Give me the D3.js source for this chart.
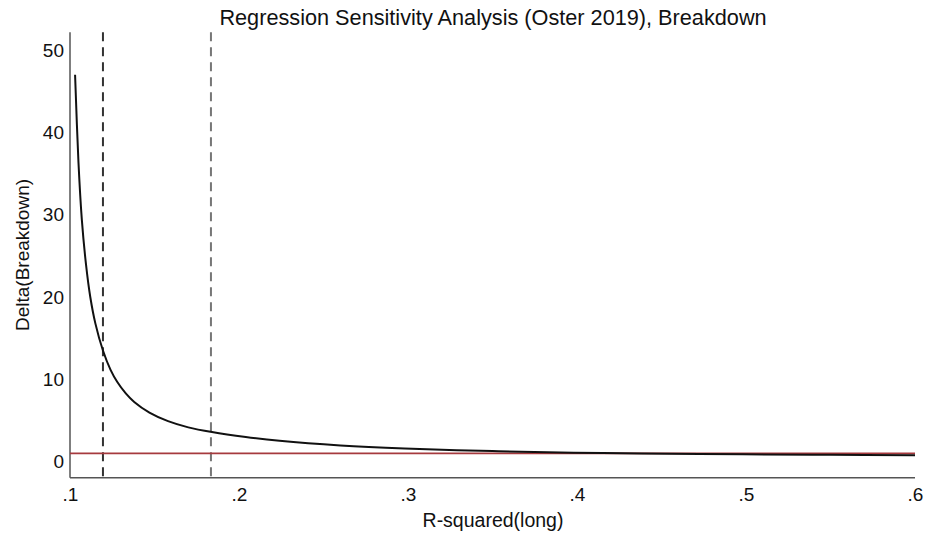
<!DOCTYPE html>
<html><head><meta charset="utf-8">
<script src="https://cdn.jsdelivr.net/npm/d3@7"></script>
<style>body{margin:0;background:#fff;} svg{display:block;font-family:"Liberation Sans",Arial,sans-serif;}</style>
</head><body><svg id="c" width="930" height="535"></svg>
<script>
const rsq   = [0.1030,0.1050,0.1070,0.1095,0.1120,0.1150,0.1195,0.1240,0.1280,0.1330,0.1380,0.1470,0.1580,0.1700,0.1840,0.2040,0.2240,0.2600,0.2980,0.3500,0.3980,0.4380,0.4980,0.5500,0.6000];
const delta = [47.0,36.4,29.4,23.9,20.0,16.8,13.5,11.15,9.67,8.29,7.25,5.96,4.92,4.17,3.60,3.00,2.54,1.98,1.61,1.29,1.09,1.00,0.90,0.83,0.78];
const vlines = [0.1195, 0.1834];
const refY = 1;
const xTicks = [0.1,0.2,0.3,0.4,0.5,0.6];
const xTickLabels = [".1",".2",".3",".4",".5",".6"];
const yTicks = [0,10,20,30,40,50];

const svg = d3.select("#c");
const x = d3.scaleLinear().domain([0.1,0.6]).range([70,915]);
const y = d3.scaleLinear().domain([0,50]).range([461.7,50]);
const yBottom = 477.7, yTop = 32.3;
const FF = "Liberation Sans, Arial, sans-serif";

// title
svg.append("text").attr("x",493).attr("y",25).attr("text-anchor","middle")
  .attr("font-size",21.7).attr("fill","#111").text("Regression Sensitivity Analysis (Oster 2019), Breakdown");

// axes
const xAxis = d3.axisBottom(x).tickValues(xTicks).tickFormat((d,i)=>xTickLabels[i]).tickSize(0).tickPadding(10);
const gx = svg.append("g").attr("transform",`translate(0,${yBottom})`).call(xAxis);
gx.select(".domain").attr("d",`M${x(0.1)},0H${x(0.6)}`).attr("stroke","#555").attr("stroke-width",1.5);
gx.selectAll("text").attr("font-size",19).attr("fill","#111").attr("font-family",FF);

const yAxis = d3.axisLeft(y).tickValues(yTicks).tickSize(0).tickPadding(6);
const gy = svg.append("g").attr("transform","translate(70,0)").call(yAxis);
gy.select(".domain").attr("d",`M0,${yBottom}V${yTop}`).attr("stroke","#555").attr("stroke-width",1.5);
gy.selectAll("text").attr("font-size",19).attr("fill","#111").attr("font-family",FF);

// axis titles
svg.append("text").attr("x",493).attr("y",527).attr("text-anchor","middle")
  .attr("font-size",19.5).attr("fill","#111").text("R-squared(long)");
svg.append("text").attr("transform",`translate(29,${(yBottom+yTop)/2}) rotate(-90)`).attr("text-anchor","middle")
  .attr("font-size",19).attr("fill","#111").text("Delta(Breakdown)");

// vertical dashed lines
const vcol = ["#333","#777"];
vlines.forEach((v,i)=>{
  svg.append("line").attr("x1",x(v)).attr("x2",x(v)).attr("y1",yTop).attr("y2",yBottom)
    .attr("stroke",vcol[i]).attr("stroke-width",2).attr("stroke-dasharray","9,6");
});

// reference line
svg.append("line").attr("x1",x(0.1)).attr("x2",x(0.6)).attr("y1",y(refY)).attr("y2",y(refY))
  .attr("stroke","#a63a3e").attr("stroke-width",1.8);

// curve
const data = rsq.map((r,i)=>[r,delta[i]]);
svg.append("path").datum(data)
  .attr("d",d3.line().x(d=>x(d[0])).y(d=>y(d[1])).curve(d3.curveCatmullRom.alpha(0.5)))
  .attr("fill","none").attr("stroke","#111").attr("stroke-width",2);
</script></body></html>
